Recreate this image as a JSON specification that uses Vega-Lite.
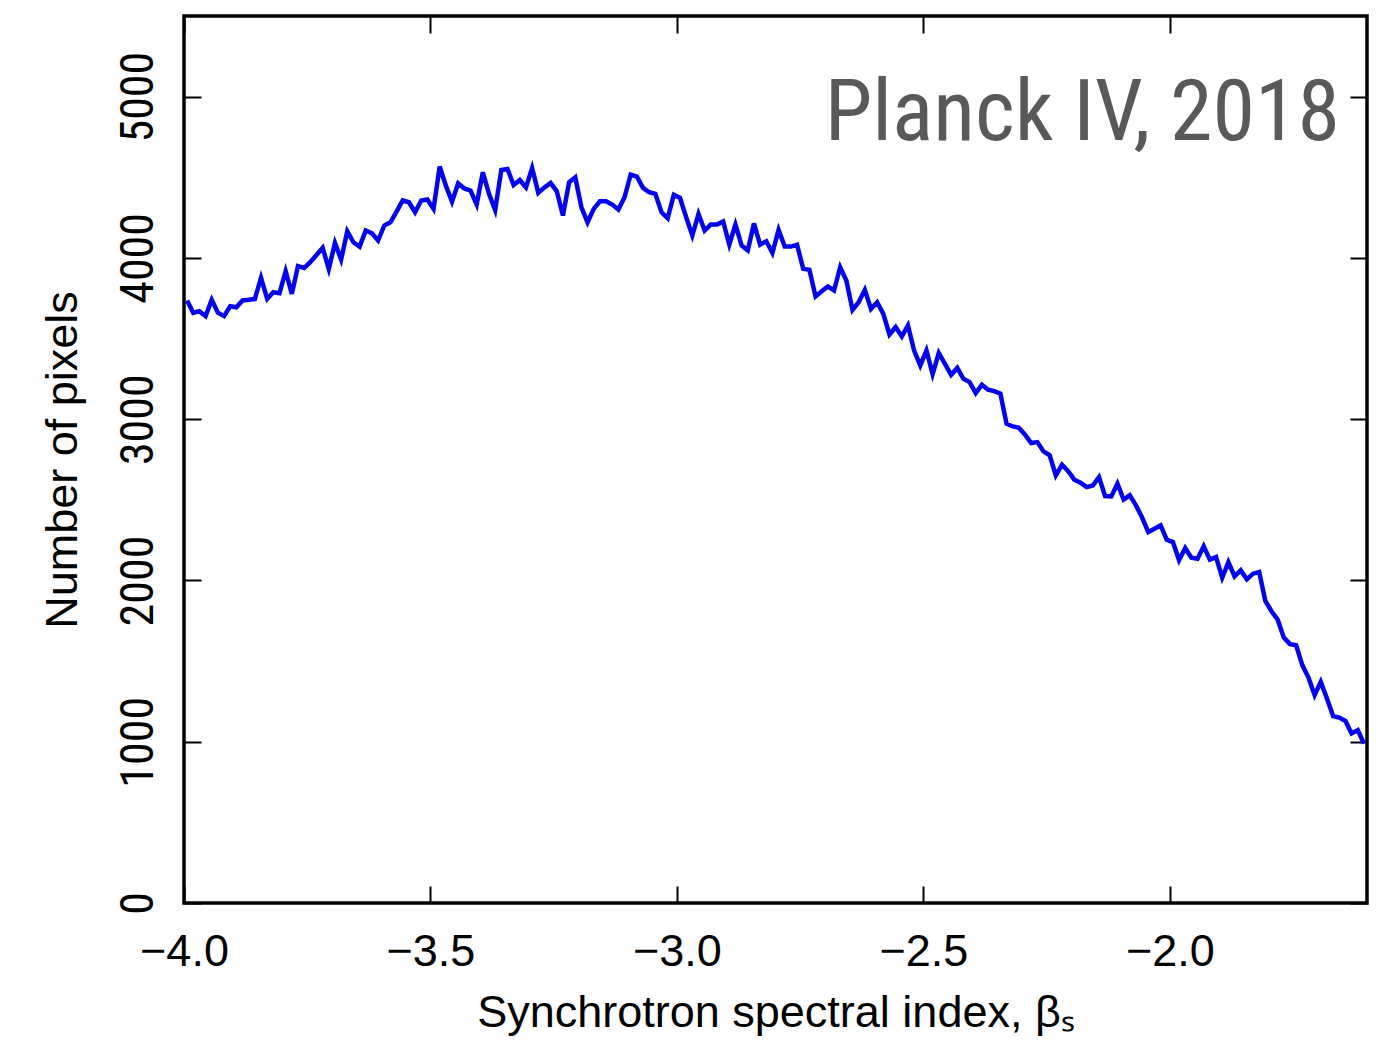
{
  "$schema": "https://vega.github.io/schema/vega-lite/v6.json",
  "width": 1183,
  "height": 887,
  "autosize": {"type": "none"},
  "padding": {"left": 184, "top": 16, "right": 27, "bottom": 140},
  "background": "white",
  "config": {
    "view": {"stroke": "black", "strokeWidth": 3.5},
    "axis": {
      "grid": false,
      "domain": false,
      "tickColor": "black",
      "tickWidth": 2,
      "tickSize": -17,
      "labelColor": "black",
      "titleColor": "black",
      "titleFontWeight": "normal",
      "labelFont": "Liberation Sans",
      "titleFont": "Liberation Sans",
      "labelFontSize": 45,
      "titleFontSize": 45
    }
  },
  "data": {"values": [
    {"beta": -3.99375, "count": 3736}, {"beta": -3.98125, "count": 3660}, {"beta": -3.96875, "count": 3670}, {"beta": -3.95625, "count": 3639},
    {"beta": -3.94375, "count": 3740}, {"beta": -3.93125, "count": 3660}, {"beta": -3.91875, "count": 3639}, {"beta": -3.90625, "count": 3700},
    {"beta": -3.89375, "count": 3694}, {"beta": -3.88125, "count": 3736}, {"beta": -3.86875, "count": 3740}, {"beta": -3.85625, "count": 3745},
    {"beta": -3.84375, "count": 3877}, {"beta": -3.83125, "count": 3746}, {"beta": -3.81875, "count": 3787}, {"beta": -3.80625, "count": 3781},
    {"beta": -3.79375, "count": 3918}, {"beta": -3.78125, "count": 3777}, {"beta": -3.76875, "count": 3949}, {"beta": -3.75625, "count": 3938},
    {"beta": -3.74375, "count": 3973}, {"beta": -3.73125, "count": 4018}, {"beta": -3.71875, "count": 4062}, {"beta": -3.70625, "count": 3932},
    {"beta": -3.69375, "count": 4093}, {"beta": -3.68125, "count": 3990}, {"beta": -3.66875, "count": 4165}, {"beta": -3.65625, "count": 4097},
    {"beta": -3.64375, "count": 4070}, {"beta": -3.63125, "count": 4170}, {"beta": -3.61875, "count": 4153}, {"beta": -3.60625, "count": 4108},
    {"beta": -3.59375, "count": 4201}, {"beta": -3.58125, "count": 4221}, {"beta": -3.56875, "count": 4287}, {"beta": -3.55625, "count": 4356},
    {"beta": -3.54375, "count": 4345}, {"beta": -3.53125, "count": 4283}, {"beta": -3.51875, "count": 4356}, {"beta": -3.50625, "count": 4362},
    {"beta": -3.49375, "count": 4304}, {"beta": -3.48125, "count": 4567}, {"beta": -3.46875, "count": 4448}, {"beta": -3.45625, "count": 4349},
    {"beta": -3.44375, "count": 4462}, {"beta": -3.43125, "count": 4431}, {"beta": -3.41875, "count": 4417}, {"beta": -3.40625, "count": 4331},
    {"beta": -3.39375, "count": 4531}, {"beta": -3.38125, "count": 4397}, {"beta": -3.36875, "count": 4297}, {"beta": -3.35625, "count": 4545},
    {"beta": -3.34375, "count": 4551}, {"beta": -3.33125, "count": 4452}, {"beta": -3.31875, "count": 4483}, {"beta": -3.30625, "count": 4437},
    {"beta": -3.29375, "count": 4557}, {"beta": -3.28125, "count": 4403}, {"beta": -3.26875, "count": 4437}, {"beta": -3.25625, "count": 4465},
    {"beta": -3.24375, "count": 4413}, {"beta": -3.23125, "count": 4263}, {"beta": -3.21875, "count": 4469}, {"beta": -3.20625, "count": 4500},
    {"beta": -3.19375, "count": 4314}, {"beta": -3.18125, "count": 4221}, {"beta": -3.16875, "count": 4304}, {"beta": -3.15625, "count": 4351},
    {"beta": -3.14375, "count": 4351}, {"beta": -3.13125, "count": 4331}, {"beta": -3.11875, "count": 4300}, {"beta": -3.10625, "count": 4376},
    {"beta": -3.09375, "count": 4517}, {"beta": -3.08125, "count": 4504}, {"beta": -3.06875, "count": 4434}, {"beta": -3.05625, "count": 4407},
    {"beta": -3.04375, "count": 4397}, {"beta": -3.03125, "count": 4283}, {"beta": -3.01875, "count": 4246}, {"beta": -3.00625, "count": 4392},
    {"beta": -2.99375, "count": 4372}, {"beta": -2.98125, "count": 4252}, {"beta": -2.96875, "count": 4139}, {"beta": -2.95625, "count": 4273},
    {"beta": -2.94375, "count": 4170}, {"beta": -2.93125, "count": 4207}, {"beta": -2.91875, "count": 4207}, {"beta": -2.90625, "count": 4226},
    {"beta": -2.89375, "count": 4083}, {"beta": -2.88125, "count": 4207}, {"beta": -2.86875, "count": 4077}, {"beta": -2.85625, "count": 4046},
    {"beta": -2.84375, "count": 4214}, {"beta": -2.83125, "count": 4082}, {"beta": -2.81875, "count": 4103}, {"beta": -2.80625, "count": 4031},
    {"beta": -2.79375, "count": 4173}, {"beta": -2.78125, "count": 4070}, {"beta": -2.76875, "count": 4070}, {"beta": -2.75625, "count": 4081},
    {"beta": -2.74375, "count": 3932}, {"beta": -2.73125, "count": 3926}, {"beta": -2.71875, "count": 3761}, {"beta": -2.70625, "count": 3793},
    {"beta": -2.69375, "count": 3823}, {"beta": -2.68125, "count": 3798}, {"beta": -2.66875, "count": 3942}, {"beta": -2.65625, "count": 3860},
    {"beta": -2.64375, "count": 3678}, {"beta": -2.63125, "count": 3725}, {"beta": -2.61875, "count": 3802}, {"beta": -2.60625, "count": 3684},
    {"beta": -2.59375, "count": 3725}, {"beta": -2.58125, "count": 3653}, {"beta": -2.56875, "count": 3525}, {"beta": -2.55625, "count": 3571},
    {"beta": -2.54375, "count": 3513}, {"beta": -2.53125, "count": 3581}, {"beta": -2.51875, "count": 3426}, {"beta": -2.50625, "count": 3333},
    {"beta": -2.49375, "count": 3426}, {"beta": -2.48125, "count": 3280}, {"beta": -2.46875, "count": 3410}, {"beta": -2.45625, "count": 3343},
    {"beta": -2.44375, "count": 3275}, {"beta": -2.43125, "count": 3318}, {"beta": -2.41875, "count": 3250}, {"beta": -2.40625, "count": 3230},
    {"beta": -2.39375, "count": 3162}, {"beta": -2.38125, "count": 3214}, {"beta": -2.36875, "count": 3183}, {"beta": -2.35625, "count": 3174},
    {"beta": -2.34375, "count": 3158}, {"beta": -2.33125, "count": 2972}, {"beta": -2.31875, "count": 2955}, {"beta": -2.30625, "count": 2947},
    {"beta": -2.29375, "count": 2904}, {"beta": -2.28125, "count": 2852}, {"beta": -2.26875, "count": 2858}, {"beta": -2.25625, "count": 2800},
    {"beta": -2.24375, "count": 2776}, {"beta": -2.23125, "count": 2652}, {"beta": -2.21875, "count": 2718}, {"beta": -2.20625, "count": 2677},
    {"beta": -2.19375, "count": 2625}, {"beta": -2.18125, "count": 2606}, {"beta": -2.16875, "count": 2579}, {"beta": -2.15625, "count": 2589},
    {"beta": -2.14375, "count": 2641}, {"beta": -2.13125, "count": 2523}, {"beta": -2.11875, "count": 2521}, {"beta": -2.10625, "count": 2600},
    {"beta": -2.09375, "count": 2502}, {"beta": -2.08125, "count": 2528}, {"beta": -2.06875, "count": 2466}, {"beta": -2.05625, "count": 2390},
    {"beta": -2.04375, "count": 2300}, {"beta": -2.03125, "count": 2321}, {"beta": -2.01875, "count": 2342}, {"beta": -2.00625, "count": 2253},
    {"beta": -1.99375, "count": 2238}, {"beta": -1.98125, "count": 2125}, {"beta": -1.96875, "count": 2201}, {"beta": -1.95625, "count": 2141},
    {"beta": -1.94375, "count": 2135}, {"beta": -1.93125, "count": 2212}, {"beta": -1.91875, "count": 2129}, {"beta": -1.90625, "count": 2145},
    {"beta": -1.89375, "count": 2017}, {"beta": -1.88125, "count": 2114}, {"beta": -1.86875, "count": 2026}, {"beta": -1.85625, "count": 2063},
    {"beta": -1.84375, "count": 2007}, {"beta": -1.83125, "count": 2042}, {"beta": -1.81875, "count": 2052}, {"beta": -1.80625, "count": 1873},
    {"beta": -1.79375, "count": 1809}, {"beta": -1.78125, "count": 1757}, {"beta": -1.76875, "count": 1646}, {"beta": -1.75625, "count": 1605},
    {"beta": -1.74375, "count": 1598}, {"beta": -1.73125, "count": 1475}, {"beta": -1.71875, "count": 1398}, {"beta": -1.70625, "count": 1289},
    {"beta": -1.69375, "count": 1371}, {"beta": -1.68125, "count": 1268}, {"beta": -1.66875, "count": 1159}, {"beta": -1.65625, "count": 1150},
    {"beta": -1.64375, "count": 1129}, {"beta": -1.63125, "count": 1051}, {"beta": -1.61875, "count": 1072}, {"beta": -1.60625, "count": 989}
  ]},
  "layer": [
    {
      "mark": {"type": "line", "color": "#0000ff", "strokeWidth": 4.5, "strokeJoin": "miter"},
      "encoding": {
        "x": {
          "field": "beta", "type": "quantitative",
          "scale": {"domain": [-4, -1.6], "nice": false, "zero": false},
          "axis": {"orient": "bottom", "values": [-4, -3.5, -3, -2.5, -2], "format": ".1f", "labelPadding": 43, "title": "Synchrotron spectral index, βₛ", "titlePadding": 16, "labelFlush": false}
        },
        "y": {
          "field": "count", "type": "quantitative",
          "scale": {"domain": [0, 5500], "nice": false},
          "axis": {"orient": "left", "values": [0, 1000, 2000, 3000, 4000, 5000], "format": "d", "labelAngle": -90, "labelAlign": "center", "labelBaseline": "alphabetic", "labelPadding": 49, "labelFont": "Roboto Condensed, DejaVu Sans Condensed, Liberation Sans Narrow, Roboto, sans-serif", "labelFontSize": 46, "title": "Number of pixels", "titlePadding": 30, "labelFlush": false}
        }
      }
    },
    {
      "mark": {"type": "line", "opacity": 0},
      "encoding": {
        "x": {
          "field": "beta", "type": "quantitative",
          "scale": {"domain": [-4, -1.6], "nice": false, "zero": false},
          "axis": {"orient": "top", "values": [-4, -3.5, -3, -2.5, -2], "labels": false, "title": null}
        },
        "y": {
          "field": "count", "type": "quantitative",
          "scale": {"domain": [0, 5500], "nice": false},
          "axis": {"orient": "right", "values": [0, 1000, 2000, 3000, 4000, 5000], "labels": false, "title": null}
        }
      }
    },
    {
      "data": {"values": [{"bx": -1.655, "by": 4730, "label": "Planck IV, 2018"}]},
      "mark": {"type": "text", "align": "right", "baseline": "alphabetic", "font": "Roboto Condensed, DejaVu Sans Condensed, Liberation Sans Narrow, Roboto, sans-serif", "fontSize": 86, "color": "#595959"},
      "encoding": {
        "x": {"field": "bx", "type": "quantitative", "scale": {"domain": [-4, -1.6], "nice": false, "zero": false}, "axis": null},
        "y": {"field": "by", "type": "quantitative", "scale": {"domain": [0, 5500], "nice": false}, "axis": null},
        "text": {"field": "label"}
      }
    }
  ],
  "resolve": {"axis": {"x": "independent", "y": "independent"}}
}
